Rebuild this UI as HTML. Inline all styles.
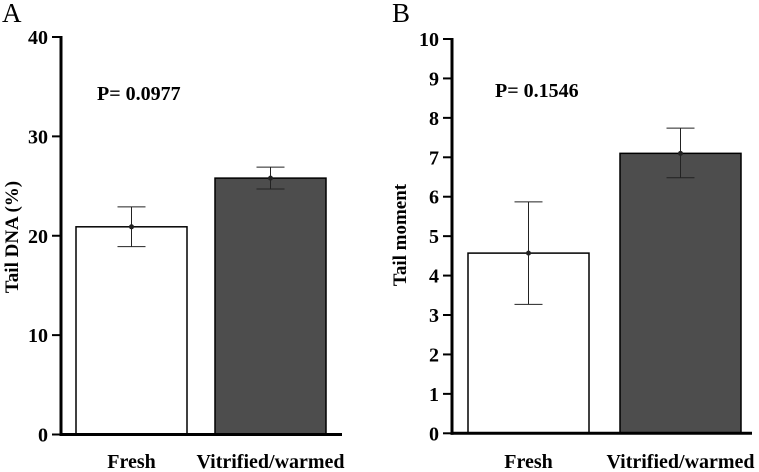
<!DOCTYPE html>
<html><head><meta charset="utf-8"><style>
html,body{margin:0;padding:0;background:#fff}
svg{display:block;font-family:"Liberation Serif",serif}
</style></head><body>
<svg id="chart" width="759" height="472" viewBox="0 0 759 472"></svg>
<script>
const categories = ["Fresh", "Vitrified/warmed"];
const tailDnaMeans = [20.9, 25.8];
const tailDnaLow = [18.9, 24.7];
const tailDnaHigh = [22.9, 26.9];
const tailDnaTicks = [0, 10, 20, 30, 40];
const tailMomentMeans = [4.57, 7.1];
const tailMomentLow = [3.27, 6.48];
const tailMomentHigh = [5.87, 7.74];
const tailMomentTicks = [0,1,2,3,4,5,6,7,8,9,10];
const barFills = ["#ffffff", "#4d4d4d"];

const NS = "http://www.w3.org/2000/svg";
const svg = document.getElementById("chart");
function mk(tag, attrs, parent, text){
  const e = document.createElementNS(NS, tag);
  for (const k in attrs) e.setAttribute(k, attrs[k]);
  if (text !== undefined) e.textContent = text;
  (parent || svg).appendChild(e);
  return e;
}

function panel(cfg){
  const g = mk("g", {});
  
  
  const y = v => cfg.y0 + (cfg.y1 - cfg.y0) * (v - cfg.min) / (cfg.max - cfg.min);
  cfg.means.forEach((m, i) => {
    const r = mk("rect", {x: cfg.barX[i], y: y(m), width: cfg.barW, height: y(0) - y(m), fill: barFills[i], stroke: "#000", "stroke-width": 1.5}, g);
    
    
    const cx = cfg.barX[i] + cfg.barW / 2;
    const eb = mk("g", {stroke: "#222", "stroke-width": 1}, g);
    
    
    mk("line", {x1: cx, x2: cx, y1: y(cfg.low[i]), y2: y(cfg.high[i])}, eb);
    mk("line", {x1: cx - 14, x2: cx + 14, y1: y(cfg.low[i]), y2: y(cfg.low[i])}, eb);
    mk("line", {x1: cx - 14, x2: cx + 14, y1: y(cfg.high[i]), y2: y(cfg.high[i])}, eb);
    mk("circle", {cx: cx, cy: y(m), r: 2.5, fill: "#222", stroke: "none"}, eb);
    const lab = mk("text", {x: cx, y: 468, "text-anchor": "middle", "font-size": 20, "font-weight": "bold"}, g, categories[i]);
    
    
  });
  const ax = mk("line", {x1: cfg.axisX, x2: cfg.axisX, y1: y(cfg.max) - 1, y2: y(0) + 1.5, stroke: "#000", "stroke-width": 3}, g);
  
  
  const xa = mk("line", {x1: cfg.axisX - 1.5, x2: cfg.xEnd, y1: y(0), y2: y(0), stroke: "#000", "stroke-width": 3}, g);
  
  
  cfg.ticks.forEach(t => {
    mk("line", {x1: cfg.axisX - 9, x2: cfg.axisX, y1: y(t), y2: y(t), stroke: "#000", "stroke-width": 2}, g);
    const tl = mk("text", {x: cfg.axisX - 13, y: y(t) + 7, "text-anchor": "end", "font-size": 20, "font-weight": "bold"}, g, String(t));
    
    
  });
  const yt = mk("text", {x: 0, y: 0, transform: `translate(${cfg.titleX},${cfg.titleY}) rotate(-90)`, "text-anchor": "middle", "font-size": 19, "font-weight": "bold"}, g, cfg.title);
  
  
  const p = mk("text", {x: cfg.pX, y: cfg.pY, "font-size": 20, "font-weight": "bold"}, g, cfg.p);
  
  
  const pl = mk("text", {x: cfg.letterX, y: 22, "font-size": 27}, g, cfg.letter);
  
  
}

panel({name: "panel-a-tail-dna", means: tailDnaMeans, low: tailDnaLow, high: tailDnaHigh, ticks: tailDnaTicks,
  min: 0, max: 40, y0: 434.5, y1: 37, axisX: 61, xEnd: 342, barX: [76, 215], barW: 111,
  title: "Tail DNA (%)", titleX: 18, titleY: 237, p: "P= 0.0977", pX: 97, pY: 100, letter: "A", letterX: 2});
panel({name: "panel-b-tail-moment", means: tailMomentMeans, low: tailMomentLow, high: tailMomentHigh, ticks: tailMomentTicks,
  min: 0, max: 10, y0: 433.3, y1: 39, axisX: 452, xEnd: 752, barX: [468, 620], barW: 121,
  title: "Tail moment", titleX: 406, titleY: 235, p: "P= 0.1546", pX: 495, pY: 97, letter: "B", letterX: 392});
</script>
</body></html>
